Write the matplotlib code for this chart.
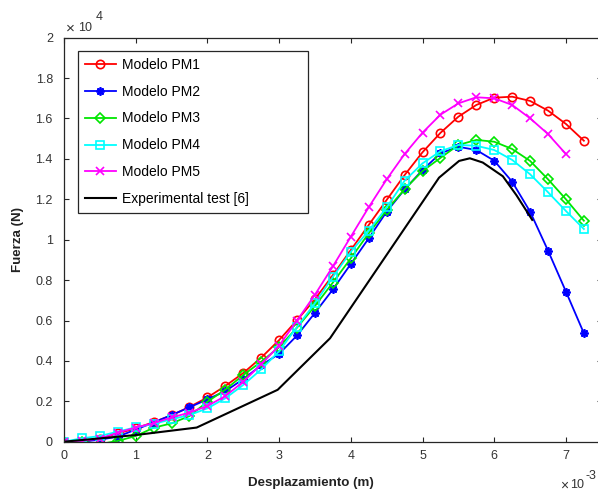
import matplotlib
matplotlib.use("Agg")
import matplotlib.pyplot as plt

plt.rcParams['font.family'] = ['Liberation Sans', 'DejaVu Sans']

# Displacement (x 1e-3 m)
disp = [0, 0.25, 0.5, 0.75, 1.0, 1.25, 1.5, 1.75, 2.0, 2.25, 2.5, 2.75, 3.0, 3.25, 3.5,
        3.75, 4.0, 4.25, 4.5, 4.75, 5.0, 5.25, 5.5, 5.75, 6.0, 6.25, 6.5, 6.75, 7.0, 7.25]
disp_pm5 = disp[:-1]

# Force (x 1e4 N)
pm1 = [0, 0.0, 0.015, 0.041, 0.066, 0.097, 0.131, 0.172, 0.219, 0.276, 0.340, 0.416, 0.503,
       0.602, 0.705, 0.825, 0.949, 1.073, 1.197, 1.320, 1.433, 1.529, 1.609, 1.667, 1.703,
       1.708, 1.687, 1.639, 1.573, 1.490]
pm2 = [0, 0.0, 0.010, 0.025, 0.060, 0.095, 0.132, 0.170, 0.210, 0.250, 0.310, 0.378, 0.435,
       0.526, 0.638, 0.754, 0.880, 1.007, 1.139, 1.249, 1.345, 1.428, 1.460, 1.444, 1.391,
       1.287, 1.139, 0.946, 0.743, 0.537]
pm3 = [0, 0.0, -0.012, 0.004, 0.028, 0.069, 0.091, 0.127, 0.198, 0.258, 0.330, 0.396, 0.468,
       0.565, 0.672, 0.788, 0.908, 1.032, 1.147, 1.250, 1.340, 1.405, 1.469, 1.494, 1.485,
       1.449, 1.390, 1.299, 1.200, 1.094]
pm4 = [0, 0.017, 0.028, 0.050, 0.071, 0.088, 0.111, 0.132, 0.165, 0.215, 0.281, 0.358, 0.448,
       0.568, 0.686, 0.816, 0.940, 1.045, 1.160, 1.292, 1.378, 1.438, 1.469, 1.465, 1.444,
       1.395, 1.324, 1.235, 1.142, 1.053]
pm5 = [0, 0.005, 0.015, 0.045, 0.070, 0.092, 0.120, 0.144, 0.177, 0.226, 0.297, 0.383, 0.476,
       0.600, 0.728, 0.868, 1.015, 1.161, 1.299, 1.424, 1.530, 1.619, 1.675, 1.705, 1.700,
       1.667, 1.601, 1.523, 1.424]
exp_disp = [0, 1.0, 1.85, 2.98, 3.71, 5.23, 5.51, 5.66, 5.84, 6.12, 6.31, 6.53]
exp_force = [0, 0.033, 0.070, 0.257, 0.512, 1.307, 1.390, 1.403, 1.382, 1.314, 1.220, 1.098]

labels = ['Modelo PM1', 'Modelo PM2', 'Modelo PM3', 'Modelo PM4', 'Modelo PM5',
          'Experimental test [6]']

W, H = 598, 493
fig = plt.figure(figsize=(W / 100, H / 100), dpi=100)
x0, x1, ytop, ybot = 64, 601.8, 37.7, 441.7
ax = fig.add_axes([x0 / W, (H - ybot) / H, (x1 - x0) / W, (ybot - ytop) / H])

lw = 1.3
ms = 6
ax.plot(disp, pm1, color='#ff0000', lw=lw, marker='o', ms=ms, mfc='none', mew=1.2, label=labels[0])
ax.plot(disp, pm2, color='#0000ff', lw=lw, marker=(8, 2, 0), ms=ms, mew=1.3, label=labels[1])
ax.plot(disp, pm3, color='#00e600', lw=lw, marker='D', ms=5.5, mfc='none', mew=1.2, label=labels[2])
ax.plot(disp, pm4, color='#00ffff', lw=lw, marker='s', ms=5.5, mfc='none', mew=1.2, label=labels[3])
ax.plot(disp_pm5, pm5, color='#ff00ff', lw=lw, marker='x', ms=5.5, mew=1.2, label=labels[4])
ax.plot(exp_disp, exp_force, color='black', lw=1.5, label=labels[5])

ax.set_xlim(0, 7.5)
ax.set_ylim(0, 2)
ax.set_xticks([0, 1, 2, 3, 4, 5, 6, 7])
ax.set_xticklabels(['0', '1', '2', '3', '4', '5', '6', '7'])
yt = [0, 0.2, 0.4, 0.6, 0.8, 1.0, 1.2, 1.4, 1.6, 1.8, 2.0]
ax.set_yticks(yt)
ax.set_yticklabels(['0', '0.2', '0.4', '0.6', '0.8', '1', '1.2', '1.4', '1.6', '1.8', '2'])

for s in ax.spines.values():
    s.set_linewidth(0.9)
    s.set_color('#262626')
ax.tick_params(direction='in', length=3.6, width=0.8, top=True, right=True,
               labelsize=9, colors='#262626', labelcolor='#333333')
ax.tick_params(axis='x', pad=6)
ax.tick_params(axis='y', pad=8)

fig.text(311 / W, 1 - 483 / H, 'Desplazamiento (m)', ha='center', va='center',
         fontsize=9.6, fontweight='bold', color='#222222')
fig.text(17.5 / W, 1 - 240 / H, 'Fuerza (N)', ha='center', va='center', rotation=90,
         fontsize=9.6, fontweight='bold', color='#222222')

fig.text(66 / W, 1 - 29 / H, '\u00d7', ha='left', va='center', fontsize=11, color='#333333')
fig.text(78 / W, 1 - 28 / H, '10', ha='left', va='center', fontsize=9, color='#333333')
fig.text(96 / W, 1 - 17 / H, '4', ha='left', va='center', fontsize=9, color='#333333')
fig.text(560 / W, 1 - 486 / H, '\u00d7', ha='left', va='center', fontsize=10, color='#333333')
fig.text(570 / W, 1 - 485 / H, '10', ha='left', va='center', fontsize=9, color='#333333')
fig.text(586 / W, 1 - 476 / H, '-3', ha='left', va='center', fontsize=9, color='#333333')

leg = ax.legend(loc='upper left',
                bbox_to_anchor=(78 / W, 1 - 50.7 / H - 0.01, (308 - 78) / W, 0.01),
                bbox_transform=fig.transFigure, mode='expand', borderaxespad=0,
                fontsize=10, handlelength=2.2, handletextpad=0.5, labelspacing=0.93,
                borderpad=0.5, fancybox=False, framealpha=1)
leg.get_frame().set_edgecolor('#262626')
leg.get_frame().set_linewidth(0.9)

fig.savefig('out.png', dpi=100)
